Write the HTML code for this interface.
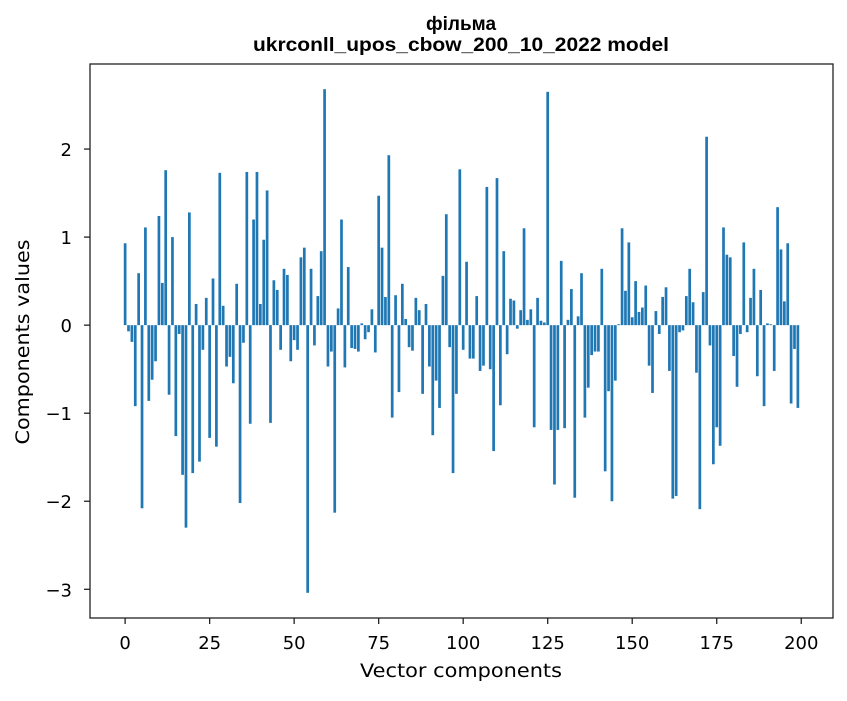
<!DOCTYPE html>
<html><head><meta charset="utf-8">
<style>
body{margin:0;background:#fff;}
svg text{font-family:"DejaVu Sans","Liberation Sans",sans-serif;fill:#000;}
svg text.ttl{font-family:"Liberation Sans",sans-serif;font-weight:bold;}
</style></head>
<body>
<svg id="chart" width="847" height="696" viewBox="0 0 847 696" xmlns="http://www.w3.org/2000/svg">
<rect width="847" height="696" fill="#fff"/>
<text class="ttl" x="461" y="30" text-anchor="middle" font-size="19">фільма</text>
<text class="ttl" x="461" y="51" text-anchor="middle" font-size="19" textLength="416" lengthAdjust="spacingAndGlyphs">ukrconll_upos_cbow_200_10_2022 model</text>
<g id="bars"></g>
<g id="xticks"></g>
<g id="yticks"></g>
<rect x="90" y="64" width="743" height="554" fill="none" stroke="#222" stroke-width="1.3"/>
<text x="461" y="677" text-anchor="middle" font-size="19" textLength="202" lengthAdjust="spacingAndGlyphs">Vector components</text>
<text x="29" y="342" text-anchor="middle" font-size="19" transform="rotate(-90 29 342)" textLength="205" lengthAdjust="spacingAndGlyphs">Components values</text>
</svg>
<script>
const values = [0.93,-0.07,-0.19,-0.92,0.59,-2.08,1.11,-0.86,-0.62,-0.41,
1.24,0.48,1.76,-0.79,1.0,-1.26,-0.10,-1.70,-2.30,1.28,
-1.68,0.24,-1.55,-0.28,0.31,-1.28,0.53,-1.38,1.73,0.22,
-0.47,-0.36,-0.66,0.47,-2.02,-0.20,1.74,-1.12,1.20,1.74,
0.24,0.97,1.53,-1.11,0.51,0.40,-0.28,0.64,0.57,-0.41,
-0.17,-0.28,0.77,0.88,-3.04,0.64,-0.23,0.33,0.84,2.68,
-0.47,-0.30,-2.13,0.19,1.20,-0.48,0.66,-0.26,-0.27,-0.30,
0.02,-0.16,-0.08,0.18,-0.31,1.47,0.88,0.32,1.93,-1.05,
0.34,-0.76,0.47,0.07,-0.25,-0.29,0.31,0.17,-0.78,0.24,
-0.47,-1.25,-0.63,-0.94,0.56,1.26,-0.25,-1.68,-0.78,1.77,
-0.28,0.72,-0.38,-0.38,0.33,-0.52,-0.46,1.57,-0.50,-1.43,
1.67,-0.91,0.84,-0.33,0.30,0.28,-0.04,0.17,1.10,0.06,
0.18,-1.16,0.31,0.05,0.03,2.65,-1.19,-1.81,-1.19,0.73,
-1.17,0.06,0.41,-1.96,0.10,0.59,-1.05,-0.71,-0.34,-0.30,
-0.30,0.64,-1.66,-0.75,-2.0,-0.63,0.01,1.10,0.39,0.94,
0.09,0.50,0.15,0.20,0.45,-0.46,-0.77,0.16,-0.10,0.32,
0.43,-0.52,-1.97,-1.94,-0.08,-0.06,0.33,0.64,0.26,-0.54,
-2.09,0.375,2.14,-0.23,-1.58,-1.16,-1.37,1.11,0.80,0.77,
-0.35,-0.70,-0.10,0.94,-0.08,0.31,0.64,-0.58,0.40,-0.92,
0.02,0.01,-0.52,1.34,0.86,0.27,0.93,-0.89,-0.27,-0.94];
const xTickLabels = [0,25,50,75,100,125,150,175,200];
const yTickLabels = [-3,-2,-1,0,1,2];

const NS='http://www.w3.org/2000/svg';
const L=90,R=833,T=64,B=618;
const n=values.length;
const xMin=-0.4,xMax=n-1+0.4,xm=(xMax-xMin)*0.05;
const x0=xMin-xm,x1=xMax+xm;
const vmin=Math.min(...values),vmax=Math.max(...values),ym=(vmax-vmin)*0.05;
const y0=vmin-ym,y1=vmax+ym;
function xs(v){return L+(v-x0)/(x1-x0)*(R-L);}
function ys(v){return B-(v-y0)/(y1-y0)*(B-T);}
const bars=document.getElementById('bars');
values.forEach((v,i)=>{
  const r=document.createElementNS(NS,'rect');
  const a=xs(i-0.4),b=xs(i+0.4);
  r.setAttribute('x',a);r.setAttribute('width',b-a);
  r.setAttribute('y',Math.min(ys(v),ys(0)));
  r.setAttribute('height',Math.abs(ys(v)-ys(0)));
  r.setAttribute('fill','#1f77b4');
  
  
  bars.appendChild(r);
});
const xt=document.getElementById('xticks');
xTickLabels.forEach(t=>{
  const px=xs(t);
  const l=document.createElementNS(NS,'line');
  l.setAttribute('x1',px);l.setAttribute('x2',px);l.setAttribute('y1',B);l.setAttribute('y2',B+6);
  l.setAttribute('stroke','#222');l.setAttribute('stroke-width','1.3');
  
  
  xt.appendChild(l);
  const s=document.createElementNS(NS,'text');
  s.setAttribute('x',px);s.setAttribute('y',649);s.setAttribute('text-anchor','middle');s.setAttribute('font-size','18');
  s.textContent=t;
  
  
  xt.appendChild(s);
});
const yt=document.getElementById('yticks');
yTickLabels.forEach(t=>{
  const py=ys(t);
  const l=document.createElementNS(NS,'line');
  l.setAttribute('x1',L-6);l.setAttribute('x2',L);l.setAttribute('y1',py);l.setAttribute('y2',py);
  l.setAttribute('stroke','#222');l.setAttribute('stroke-width','1.3');
  
  
  yt.appendChild(l);
  const s=document.createElementNS(NS,'text');
  s.setAttribute('x',72);s.setAttribute('y',py+7);s.setAttribute('text-anchor','end');s.setAttribute('font-size','18');
  s.textContent=t<0?'\u2212'+Math.abs(t):String(t);
  
  
  yt.appendChild(s);
});
</script>
</body></html>
